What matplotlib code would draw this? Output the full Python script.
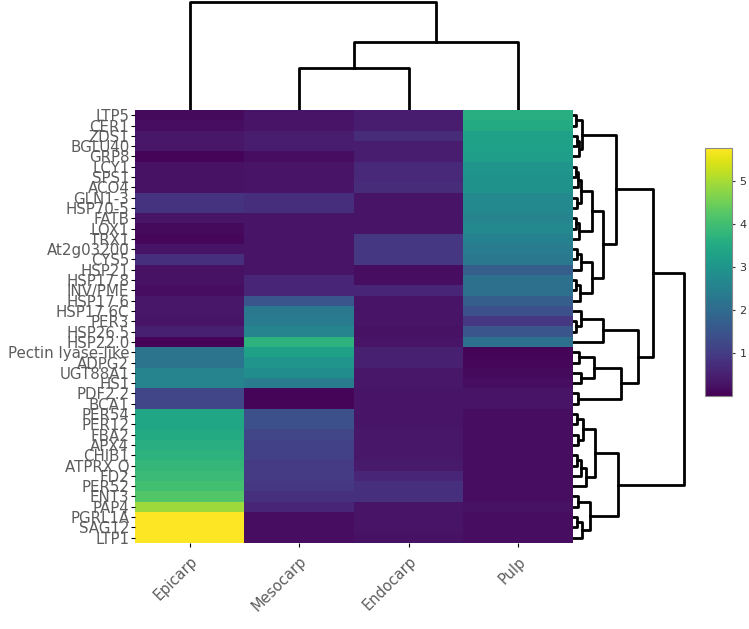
import numpy as np
import matplotlib.pyplot as plt

# row labels (top to bottom, as shown in the heatmap)
genes = ['LTP5', 'CER1', 'ZDS1', 'BGLU40', 'GRP8', 'LCY1', 'SPS1', 'ACO4',
         'GLN1-3', 'HSP70-5', 'FATB', 'LOX1', 'TRX1', 'At2g03200', 'CYS5',
         'HSP21', 'HSP17.8', 'INV/PME', 'HSP17.6', 'HSP17.6C', 'PER3',
         'HSP26.5', 'HSP22.0', 'Pectin lyase-like', 'ADPG2', 'UGT88A1', 'HS1',
         'PDF2.2', 'BCA1', 'PER54', 'PER12', 'FBA2', 'APX4', 'CHIB1',
         'ATPRX Q', 'FD2', 'PER52', 'ENT3', 'PAP4', 'PGRL1A', 'SAG12', 'LTP1']
tissues = ['Epicarp', 'Mesocarp', 'Endocarp', 'Pulp']

epicarp = [0.15, 0.2, 0.35, 0.35, 0.05, 0.25, 0.25, 0.25, 0.85, 0.85, 0.3,
           0.15, 0.1, 0.3, 0.8, 0.25, 0.25, 0.2, 0.35, 0.35, 0.3, 0.5, 0.05,
           2.2, 2.2, 2.6, 2.6, 1.2, 1.2, 3.4, 3.4, 3.5, 3.6, 3.7, 3.8, 3.9,
           4.0, 4.2, 4.9, 5.75, 5.75, 5.75]
mesocarp = [0.3, 0.3, 0.45, 0.45, 0.2, 0.3, 0.3, 0.3, 0.75, 0.75, 0.3, 0.3,
            0.3, 0.3, 0.3, 0.3, 0.6, 0.6, 1.5, 2.3, 2.4, 2.6, 3.7, 3.3, 3.0,
            2.8, 2.4, 0.05, 0.05, 1.4, 1.4, 1.2, 1.1, 1.1, 1.0, 1.0, 0.9, 0.8,
            0.6, 0.2, 0.2, 0.2]
endocarp = [0.45, 0.45, 0.7, 0.45, 0.45, 0.65, 0.65, 0.7, 0.3, 0.3, 0.3, 0.3,
            0.9, 0.9, 0.9, 0.2, 0.2, 0.6, 0.3, 0.3, 0.3, 0.25, 0.3, 0.5, 0.5,
            0.35, 0.35, 0.3, 0.3, 0.3, 0.3, 0.35, 0.35, 0.35, 0.4, 0.6, 0.8,
            0.8, 0.3, 0.3, 0.3, 0.25]
pulp = [3.6, 3.5, 3.3, 3.3, 3.2, 3.0, 2.9, 2.9, 2.7, 2.7, 2.6, 2.7, 2.5, 2.4,
        2.3, 1.7, 2.1, 2.1, 1.7, 1.4, 0.9, 1.5, 2.1, 0.05, 0.1, 0.15, 0.2, 0.3,
        0.3, 0.2, 0.2, 0.2, 0.2, 0.2, 0.2, 0.2, 0.2, 0.2, 0.25, 0.2, 0.2, 0.2]

# dendrograms as (height, left, right); ints are leaf indices
col_tree = (107, 0, (67, (42, 1, 2), 3))

g1 = (9, (3, 0, 1), (6, (4, 2, 3), 4))
g2 = (19, (8, (5, (3, 5, 6), 7), (4, 8, 9)), (6, (3, 10, 11), 12))
g3 = (19, (8, (4, 13, 14), 15), (7, (3, 16, 17), 18))
clus_a = (43, g1, (30, g2, g3))
b1 = (30, (8, 19, (3, 20, 21)), 22)
b2 = (48, (21, (6, 23, 24), (8, 25, 26)), (5, 27, 28))
upper = (79, clus_a, (65, b1, b2))
l1 = (22, (10, (4, 29, 30), (5, 31, 32)), (13, (8, (4, 33, 34), 35), 36))
l2 = (17, (5, 37, 38), (9, (4, 39, 40), 41))
row_tree = (110, upper, (45, l1, l2))

data = np.array([epicarp, mesocarp, endocarp, pulp]).T
txt = '#5c5c5c'


def draw_tree(ax, node, side):
    if isinstance(node, int):
        return node + 0.5, 0.0
    h, left, right = node
    p1, h1 = draw_tree(ax, left, side)
    p2, h2 = draw_tree(ax, right, side)
    hs = [h1, h, h, h2]
    ps = [p1, p1, p2, p2]
    if side == 'top':
        ax.plot(ps, hs, color='black', lw=2)
    else:
        ax.plot(hs, ps, color='black', lw=2)
    return (p1 + p2) / 2, h


fig = plt.figure(figsize=(7.49, 6.29), dpi=100)

ax = fig.add_axes([0.180, 0.137, 0.585, 0.688])
mesh = ax.pcolormesh(data, cmap='viridis', vmin=0.0, vmax=5.75)
ax.set_xlim(0, len(tissues))
ax.set_ylim(len(genes), 0)
ax.set_yticks(np.arange(len(genes)) + 0.5)
ax.set_yticklabels(genes, fontsize=10.8, color=txt)
ax.set_xticks(np.arange(len(tissues)) + 0.5)
ax.set_xticklabels(tissues, fontsize=10.5, color=txt, rotation=45,
                   ha='right', va='top', rotation_mode='anchor')
ax.tick_params(axis='y', length=3, width=0.8, pad=1)
ax.tick_params(axis='x', length=3, width=0.8, pad=5)
for s in ax.spines.values():
    s.set_visible(False)

# column dendrogram on top
ax_top = fig.add_axes([0.180, 0.825, 0.585, 0.175])
draw_tree(ax_top, col_tree, 'top')
ax_top.set_xlim(0, len(tissues))
ax_top.set_ylim(0, 109)
ax_top.axis('off')

# row dendrogram on the right
ax_right = fig.add_axes([0.765, 0.137, 0.152, 0.688])
draw_tree(ax_right, row_tree, 'right')
ax_right.set_ylim(len(genes), 0)
ax_right.set_xlim(0, 113)
ax_right.axis('off')

cax = fig.add_axes([0.941, 0.370, 0.036, 0.394])
cb = fig.colorbar(mesh, cax=cax, ticks=[1, 2, 3, 4, 5])
cb.ax.tick_params(labelsize=8, length=2, colors='#333333')
cb.outline.set_edgecolor('#888888')

fig.savefig('out.png', dpi=100)
